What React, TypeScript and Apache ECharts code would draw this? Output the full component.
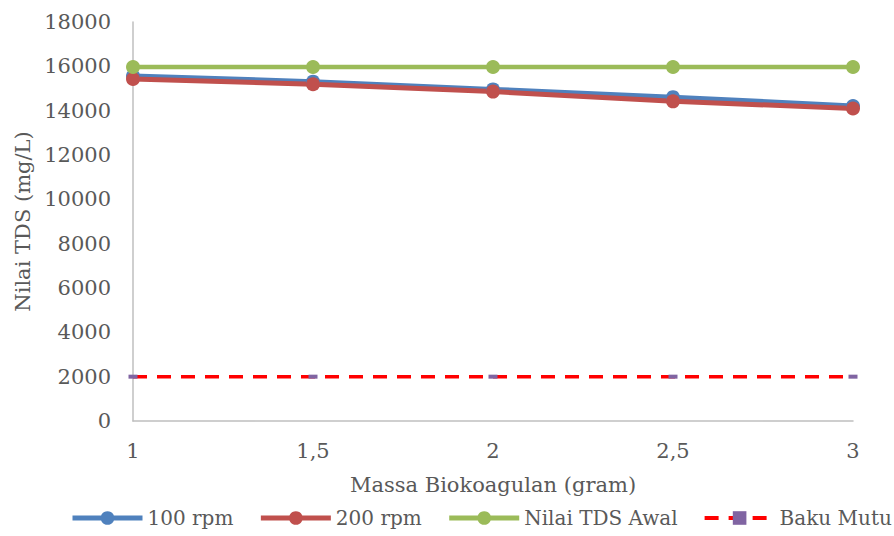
import React, { useEffect, useRef } from "react";
import * as echarts from "echarts";

const categories = ["1", "1,5", "2", "2,5", "3"];
const rpm100 = [15560, 15310, 14960, 14610, 14210];
const rpm200 = [15430, 15190, 14860, 14420, 14100];
const tdsAwal = [15970, 15970, 15970, 15970, 15970];
const bakuMutu = [2000, 2000, 2000, 2000, 2000];

const FONT = "DejaVu Serif";
const TXT = "#595959";

export default function App() {
  const ref = useRef<HTMLDivElement>(null);
  useEffect(() => {
    document.body.style.margin = "0";
    const chart = echarts.init(ref.current!, null, { renderer: "svg" });
    chart.setOption({
      animation: false,
      backgroundColor: "#ffffff",
      textStyle: { fontFamily: FONT },
      grid: { left: 133, right: 41, top: 22, bottom: 115 },
      legend: {
        top: 508,
        left: 70,
        width: 824,
        padding: 0,
        itemWidth: 70,
        itemHeight: 17,
        itemGap: 25,
        textStyle: { fontFamily: FONT, fontSize: 20, color: TXT },
        data: [
          { name: "100 rpm", lineStyle: { width: 5 } },
          { name: "200 rpm", lineStyle: { width: 5 } },
          { name: "Nilai TDS Awal", lineStyle: { width: 5 } },
          { name: "Baku Mutu", lineStyle: { width: 4 } },
        ],
      },
      xAxis: {
        type: "category",
        data: categories,
        boundaryGap: false,
        name: "Massa Biokoagulan (gram)",
        nameLocation: "middle",
        nameGap: 53,
        nameTextStyle: { fontFamily: FONT, fontSize: 21, color: TXT },
        axisLine: { lineStyle: { color: "#BFBFBF", width: 1.5 } },
        axisTick: { show: false },
        axisLabel: { fontFamily: FONT, fontSize: 21, color: TXT, margin: 19 },
        splitLine: { show: false },
      },
      yAxis: {
        type: "value",
        min: 0,
        max: 18000,
        interval: 2000,
        name: "Nilai TDS (mg/L)",
        nameLocation: "middle",
        nameGap: 98,
        nameTextStyle: { fontFamily: FONT, fontSize: 21, color: TXT },
        axisLine: { show: true, lineStyle: { color: "#BFBFBF", width: 1.5 } },
        axisTick: { show: false },
        axisLabel: {
          fontFamily: FONT,
          fontSize: 21,
          color: TXT,
          margin: 22,
          formatter: (v: number) => String(v),
        },
        splitLine: { show: false },
      },
      series: [
        {
          name: "100 rpm",
          type: "line",
          data: rpm100,
          symbol: "circle",
          symbolSize: 14,
          itemStyle: { color: "#4F81BD" },
          lineStyle: { color: "#4F81BD", width: 5 },
        },
        {
          name: "200 rpm",
          type: "line",
          data: rpm200,
          symbol: "circle",
          symbolSize: 14,
          itemStyle: { color: "#C0504D" },
          lineStyle: { color: "#C0504D", width: 5 },
        },
        {
          name: "Nilai TDS Awal",
          type: "line",
          data: tdsAwal,
          symbol: "circle",
          symbolSize: 14,
          itemStyle: { color: "#9BBB59" },
          lineStyle: { color: "#9BBB59", width: 4.5 },
        },
        {
          name: "Baku Mutu",
          type: "line",
          data: bakuMutu,
          symbol: "rect",
          symbolSize: [9, 4],
          itemStyle: { color: "#8064A2" },
          lineStyle: { color: "#FF0000", width: 3.5, type: [14, 10] },
          z: 1,
        },
      ],
    });
    return () => chart.dispose();
  }, []);
  return <div ref={ref} style={{ width: 894, height: 536 }} />;
}
